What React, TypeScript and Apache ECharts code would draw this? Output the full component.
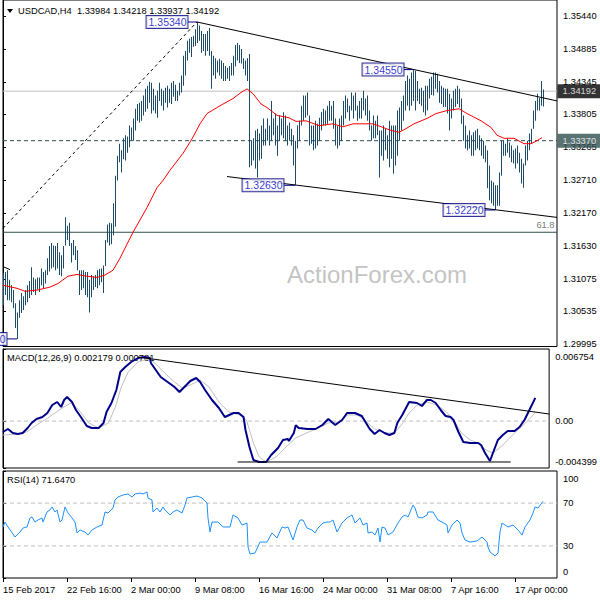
import React, { useEffect, useRef } from 'react';
import * as echarts from 'echarts';

// ---------- data ----------
const symbolName = 'USDCAD,H4';
const lastOpen = 1.33984;
const lastClose = 1.34192;

const highs = [
  1.3117,1.3119,1.3122,1.3106,1.3097,1.3089,1.3067,1.3052,1.3072,1.3084,
  1.3079,1.3089,1.3097,1.3104,1.3127,1.3110,1.3107,1.3110,1.3110,1.3125,
  1.3119,1.3122,1.3142,1.3162,1.3167,1.3163,1.3162,1.3167,1.3152,1.3147,
  1.3162,1.3210,1.3196,1.3201,1.3167,1.3172,1.3162,1.3155,1.3122,1.3122,
  1.3122,1.3119,1.3119,1.3106,1.3114,1.3112,1.3114,1.3122,1.3124,1.3125,
  1.3130,1.3172,1.3198,1.3201,1.3200,1.3233,1.3279,1.3312,1.3332,1.3321,
  1.3341,1.3346,1.3344,1.3362,1.3359,1.3374,1.3390,1.3398,1.3400,1.3403,
  1.3412,1.3423,1.3428,1.3435,1.3433,1.3423,1.3412,1.3420,1.3433,1.3423,
  1.3420,1.3425,1.3428,1.3423,1.3433,1.3436,1.3430,1.3420,1.3433,1.3445,
  1.3478,1.3486,1.3503,1.3506,1.3509,1.3511,1.3522,1.3534,1.3528,1.3519,
  1.3514,1.3514,1.3519,1.3524,1.3486,1.3478,1.3474,1.3470,1.3473,1.3470,
  1.3466,1.3461,1.3458,1.3461,1.3466,1.3478,1.3496,1.3499,1.3496,1.3489,
  1.3474,1.3470,1.3474,1.3481,1.3337,1.3341,1.3354,1.3357,1.3349,1.3362,
  1.3374,1.3357,1.3374,1.3362,1.3403,1.3374,1.3382,1.3362,1.3379,1.3374,
  1.3384,1.3379,1.3362,1.3367,1.3357,1.3346,1.3337,1.3362,1.3370,1.3395,
  1.3412,1.3412,1.3417,1.3379,1.3362,1.3362,1.3370,1.3365,1.3375,1.3384,
  1.3390,1.3387,1.3395,1.3403,1.3395,1.3403,1.3374,1.3362,1.3374,1.3379,
  1.3403,1.3412,1.3407,1.3395,1.3417,1.3412,1.3417,1.3395,1.3403,1.3408,
  1.3420,1.3407,1.3412,1.3387,1.3362,1.3379,1.3370,1.3379,1.3354,1.3354,
  1.3362,1.3357,1.3346,1.3370,1.3362,1.3362,1.3362,1.3387,1.3392,1.3403,
  1.3412,1.3436,1.3445,1.3440,1.3450,1.3455,1.3453,1.3436,1.3423,1.3425,
  1.3420,1.3428,1.3428,1.3440,1.3443,1.3450,1.3450,1.3448,1.3436,1.3428,
  1.3425,1.3423,1.3423,1.3415,1.3407,1.3420,1.3423,1.3428,1.3423,1.3407,
  1.3379,1.3362,1.3346,1.3354,1.3346,1.3351,1.3354,1.3357,1.3346,1.3341,
  1.3337,1.3329,1.3321,1.3296,1.3271,1.3268,1.3263,1.3263,1.3284,1.3337,
  1.3337,1.3332,1.3341,1.3334,1.3329,1.3321,1.3324,1.3329,1.3317,1.3307,
  1.3299,1.3329,1.3337,1.3349,1.3357,1.3387,1.3403,1.3415,1.3408,1.3436,
  1.34218,
];

const lows = [
  1.3064,1.3081,1.3072,1.3072,1.3069,1.3059,1.3026,1.3008,1.3043,1.3051,
  1.3056,1.3064,1.3069,1.3076,1.3081,1.3086,1.3081,1.3090,1.3086,1.3097,
  1.3092,1.3100,1.3114,1.3120,1.3125,1.3127,1.3122,1.3125,1.3114,1.3112,
  1.3125,1.3163,1.3172,1.3162,1.3135,1.3147,1.3139,1.3122,1.3081,1.3089,
  1.3092,1.3081,1.3077,1.3052,1.3077,1.3089,1.3094,1.3092,1.3097,1.3102,
  1.3084,1.3129,1.3168,1.3163,1.3165,1.3180,1.3194,1.3271,1.3301,1.3284,
  1.3306,1.3304,1.3317,1.3326,1.3337,1.3337,1.3354,1.3370,1.3367,1.3370,
  1.3379,1.3385,1.3390,1.3400,1.3382,1.3387,1.3382,1.3375,1.3403,1.3395,
  1.3387,1.3400,1.3392,1.3400,1.3398,1.3410,1.3403,1.3403,1.3412,1.3417,
  1.3428,1.3445,1.3470,1.3483,1.3476,1.3493,1.3494,1.3499,1.3503,1.3483,
  1.3486,1.3478,1.3486,1.3478,1.3423,1.3445,1.3440,1.3450,1.3445,1.3440,
  1.3436,1.3436,1.3440,1.3436,1.3445,1.3445,1.3460,1.3470,1.3466,1.3465,
  1.3456,1.3445,1.3436,1.3293,1.3296,1.3304,1.3291,1.3276,1.3304,1.3307,
  1.3329,1.3329,1.3337,1.3329,1.3337,1.3346,1.3329,1.3312,1.3337,1.3346,
  1.3341,1.3337,1.3329,1.3337,1.3329,1.3296,1.3263,1.3324,1.3337,1.3362,
  1.3370,1.3375,1.3379,1.3329,1.3332,1.3321,1.3324,1.3329,1.3337,1.3354,
  1.3362,1.3362,1.3365,1.3370,1.3370,1.3357,1.3329,1.3324,1.3329,1.3337,
  1.3362,1.3374,1.3384,1.3370,1.3387,1.3374,1.3387,1.3370,1.3374,1.3374,
  1.3387,1.3379,1.3370,1.3354,1.3337,1.3341,1.3341,1.3346,1.3276,1.3312,
  1.3304,1.3321,1.3307,1.3293,1.3307,1.3282,1.3296,1.3312,1.3337,1.3354,
  1.3370,1.3387,1.3395,1.3387,1.3395,1.3403,1.3387,1.3403,1.3398,1.3395,
  1.3384,1.3379,1.3387,1.3407,1.3413,1.3412,1.3423,1.3417,1.3400,1.3398,
  1.3393,1.3393,1.3382,1.3354,1.3374,1.3387,1.3393,1.3398,1.3392,1.3365,
  1.3337,1.3324,1.3321,1.3324,1.3312,1.3312,1.3321,1.3324,1.3321,1.3312,
  1.3307,1.3301,1.3258,1.3238,1.3233,1.3229,1.3222,1.3229,1.3229,1.3279,
  1.3312,1.3312,1.3317,1.3309,1.3301,1.3299,1.3291,1.3299,1.3284,1.3266,
  1.3259,1.3296,1.3304,1.3321,1.3332,1.3357,1.3370,1.3387,1.3387,1.3395,
  1.33937,
];

// moving average (bar index, price)
const maPoints: [number, number][] = [
  [0,1.3097],[7,1.3092],[11,1.3087],[17,1.3089],[23.5,1.3094],[27.5,1.3100],[32.5,1.3112],[37,1.3115],
  [42,1.3112],[47,1.3110],[51,1.3114],[55,1.3122],[58.5,1.3142],[65,1.3185],[72,1.3226],[77,1.3259],
  [80,1.3271],[83.5,1.3288],[90,1.3316],[94.5,1.3340],[98.5,1.3365],[102,1.3382],[108.5,1.3395],
  [115,1.3407],[119,1.3417],[122,1.3423],[125,1.3415],[129,1.3398],[132,1.3392],[137,1.3379],
  [143,1.3375],[146.5,1.3369],[151.5,1.3370],[158,1.3362],[165,1.3365],[170,1.3360],[175,1.3365],
  [180,1.3365],[185,1.3365],[190,1.3359],[194,1.3354],[198,1.3351],[201.5,1.3357],[205.5,1.3365],
  [212,1.3374],[216.5,1.3382],[222,1.3387],[228,1.3390],[232,1.3382],[239,1.3370],[244,1.3359],
  [247,1.3346],[250.5,1.3341],[255.5,1.3341],[260.5,1.3332],[264,1.3332],[267,1.3337],[269.5,1.3342],
];

const macdMain: [number, number][] = [
  [0,-0.001025],[2.5,-0.000744],[5,-0.001118],[7.5,-0.001212],[10,-0.001118],[12.5,-0.00065],[14.5,-0.000181],
  [17,0.000194],[20,0.000381],[22.5,0.000756],[25,0.001506],[27.5,0.001787],[29.5,0.001318],[31,0.001974],
  [32.5,0.002255],[35,0.001787],[37,0.001037],[39.5,0.000381],[42.5,-0.000462],[45,-0.00065],[48.5,-0.00065],
  [51,-0.000181],[52.5,0.00085],[55,0.001693],[57.5,0.002911],[59.5,0.004598],[62,0.005067],[65,0.005536],
  [68.5,0.005911],[72,0.006004],[74.5,0.005911],[75,0.005442],[77.5,0.004786],[80,0.00413],[83.5,0.003661],
  [87,0.003193],[89.5,0.002724],[92,0.003193],[95,0.003755],[98,0.004036],[100,0.003661],[102.5,0.002911],
  [106,0.001974],[109.5,0.001225],[112.5,0.000381],[117,0.000756],[119.5,0.000756],[122,0.000381],
  [123,-0.000837],[125,-0.002431],[127,-0.003649],[130,-0.003836],[133.5,-0.003836],[136,-0.00318],
  [139.5,-0.002524],[142,-0.001775],[144.5,-0.001681],[145,-0.001868],[147.5,-0.001118],[148.5,-0.0004],
  [150,-0.00065],[154.5,-0.000744],[158.5,-0.000744],[162,-0.000369],[165,0.000194],[168.5,-0.000369],
  [172,0.0001],[174.5,0.000756],[178.5,0.000756],[182,0.000475],[186,-0.000744],[188.5,-0.001212],
  [191,-0.000837],[193.5,-0.001118],[196,-0.001306],[198.5,-0.001118],[200,-0.000181],[202.5,0.000569],
  [206,0.001787],[210,0.001693],[212.5,0.001412],[215,0.001974],[217,0.001974],[219.5,0.001693],
  [222,0.001037],[224.5,0.000475],[227,0.000381],[228.5,0.0001],[231,-0.001025],[233.5,-0.001962],
  [237,-0.002056],[241,-0.002056],[242.5,-0.002243],[244.5,-0.002993],[247,-0.003743],[248.5,-0.002993],
  [251,-0.001775],[253.5,-0.001306],[256,-0.000931],[259.5,-0.000931],[262,-0.000556],[264.5,0.0001],
  [267,0.001037],[270,0.002179],
];

const macdSignal: [number, number][] = [
  [0,-0.001306],[7,-0.001212],[12,-0.001025],[17,-0.000369],[23.5,0.000381],[30,0.001225],[34.5,0.001693],
  [38.5,0.001037],[43.5,-0.000181],[48.5,-0.00065],[53.5,-0.000181],[57,0.001318],[60,0.003193],
  [63.5,0.004598],[68.5,0.005536],[73.5,0.005817],[77,0.005442],[82,0.004505],[87,0.003661],[91,0.003099],
  [95,0.00338],[100,0.003849],[104.5,0.003193],[109.5,0.001787],[114.5,0.00085],[120,0.000569],
  [123.5,0.0001],[127,-0.002056],[130,-0.003368],[133.5,-0.003836],[138.5,-0.003368],[143.5,-0.002431],
  [148.5,-0.001587],[155,-0.001025],[160,-0.00065],[165,-0.000181],[170,-0.000088],[175,0.000569],
  [180,0.000569],[184.5,-0.000088],[188.5,-0.000744],[193.5,-0.001118],[198.5,-0.001118],[202,-0.000369],
  [206,0.000756],[210,0.001506],[215,0.001787],[220,0.001506],[225,0.00085],[228.5,0.0001],
  [232.5,-0.001118],[237,-0.001775],[241,-0.002056],[245,-0.002712],[248.5,-0.002993],[252.5,-0.002431],
  [257,-0.001587],[261,-0.000837],[265,-0.000181],[270,0.000781],
];

const rsiPoints: [number, number][] = [
  [0,47.7],[1,52.3],[2.5,47.7],[6,38.3],[8.5,43.0],[10,46.7],[12,47.7],[13.5,56.1],[14.5,57.0],[16,52.3],
  [17.5,54.2],[19.5,56.1],[20,52.3],[22,61.7],[23.5,63.6],[24.5,66.4],[26,61.7],[27,63.6],[28.5,52.3],
  [29.5,54.2],[31,66.4],[32.5,60.7],[34.5,56.1],[36,52.3],[37,42.1],[38.5,44.9],[41,43.0],[42.5,40.2],
  [44.5,44.9],[47,47.7],[49.5,49.5],[51,61.7],[52.5,60.7],[55,65.4],[56,72.9],[57.5,75.7],[60,77.6],
  [62.5,78.5],[64.5,75.7],[66,78.5],[68.5,79.4],[70,78.5],[72,80.4],[72.5,74.8],[74.5,72.9],[75,61.7],
  [77,65.4],[78.5,61.7],[80,66.4],[81,63.6],[83.5,58.9],[85,61.7],[87,63.6],[89.5,60.7],[91,68.2],
  [92,74.8],[94.5,75.7],[97,76.6],[99.5,74.8],[102,70.1],[102.5,56.1],[103.5,43.0],[104.5,52.3],
  [107.5,52.3],[110,47.7],[113.5,47.7],[115,58.9],[117.5,56.1],[119.5,49.5],[122,51.4],[122.5,29.0],
  [123.5,22.4],[126,23.4],[128.5,33.6],[132,33.6],[134.5,42.1],[137,37.4],[139.5,47.7],[141,46.7],
  [142.5,47.7],[145,35.5],[147,47.7],[148.5,54.2],[150,54.2],[152,46.7],[154.5,44.9],[156,42.1],
  [157.5,46.7],[160,51.4],[162,52.3],[163.5,52.3],[165,54.2],[167,43.0],[169.5,51.4],[172,56.1],
  [174.5,58.9],[176,51.4],[178.5,56.1],[180,49.5],[182,51.4],[182.5,42.1],[184.5,43.0],[186,40.2],
  [187.5,46.7],[188.5,33.6],[189.5,47.7],[191,46.7],[192.5,40.2],[195,43.0],[197.5,51.4],[199.5,57.0],
  [201,58.9],[202.5,57.0],[205,68.2],[206,65.4],[207.5,57.0],[209.5,56.1],[212,58.9],[212.5,61.7],
  [215,61.7],[217.5,54.2],[219.5,52.3],[222,49.5],[222.5,42.1],[224.5,49.5],[227,54.2],[228.5,51.4],
  [229.5,42.1],[231,35.5],[233.5,33.6],[237,34.6],[239.5,38.3],[242,33.6],[242.5,29.0],[243.5,24.3],
  [246,20.6],[247.5,23.4],[248.5,43.0],[249.5,51.4],[251,49.5],[252.5,47.7],[255,49.5],[257.5,44.9],
  [259.5,40.2],[261,47.7],[263.5,54.2],[265,60.7],[266,66.4],[267.5,65.4],[270,71.647],
];

const xTickIdx = [0, 32, 64, 96, 128, 160, 192, 224, 256];
const xTickText = ['15 Feb 2017', '22 Feb 16:00', '2 Mar 00:00', '9 Mar 08:00', '16 Mar 16:00',
  '24 Mar 00:00', '31 Mar 08:00', '7 Apr 16:00', '17 Apr 00:00'];
const priceTicks = [1.29995, 1.30535, 1.31075, 1.3163, 1.3217, 1.3271, 1.33265, 1.33805, 1.34345, 1.34885, 1.3544];
const macdTicks = [-0.004399, 0, 0.006754];
const macdTickText = ['-0.004399', '0.00', '0.006754'];
const rsiTicks = [0, 30, 70, 100];
const rsiLevels = [30, 70];

const priceRange = [1.29954, 1.35705];
const barSpan = 277;
const currentPrice = lastClose;
const dashedLevel = 1.3337;
const fibLevel = 1.3185;
const fibText = '61.8';

const trendLines: { pts: [number, number][]; dashed?: boolean }[] = [
  { pts: [[0, 1.31915], [97, 1.3534]], dashed: true },
  { pts: [[97, 1.3534], [277, 1.3403]] },
  { pts: [[112, 1.32775], [277, 1.32097]] },
  { pts: [[0, 1.3128], [3.5, 1.3123]] },
];
const swingLabels = [
  { bar: 97, price: 1.3534, boxBar: 92.5 },
  { bar: 205, price: 1.3455, boxBar: 200.5 },
  { bar: 146, price: 1.3263, boxBar: 140.5 },
  { bar: 246, price: 1.3222, boxBar: 241 },
  { bar: 7, price: 1.3008, boxBar: 2 },
];
const macdTrend: [number, number][] = [[68.5, 0.006004], [277, 0.000662]];
const macdFloor: [number, number][] = [[119, -0.003836], [257.5, -0.003836]];

// ---------- styles ----------
const FONT = "'Liberation Sans', Arial, sans-serif";
const FS = 9.3;
const BAR_COLOR = '#1d4a66';
const NAVY = '#000080';
const SLATE = '#2f4f4f';

export default function App() {
  const ref = useRef<HTMLDivElement>(null);
  useEffect(() => {
    const chart = echarts.init(ref.current!, null, { renderer: 'svg' });
    const n = highs.length;
    const headerText = `${symbolName}  ${lastOpen.toFixed(5)} ${highs[n - 1].toFixed(5)} ${lows[n - 1].toFixed(5)} ${lastClose.toFixed(5)}`;
    const macdText = `MACD(12,26,9) ${macdMain[macdMain.length - 1][1].toFixed(6)} ${macdSignal[macdSignal.length - 1][1].toFixed(6)}`;
    const rsiText = `RSI(14) ${rsiPoints[rsiPoints.length - 1][1].toFixed(4)}`;

    const edgeRich = {
      top: { padding: [16, 0, 0, 0], fontSize: FS, fontFamily: FONT, color: '#000' },
      bot: { padding: [0, 0, 12, 0], fontSize: FS, fontFamily: FONT, color: '#000' },
    };
    // wrap min/max labels so they sit inside their panel, as in MT4
    const edgeFmt = (ticks: number[], text: (v: number) => string) => (v: number) => {
      const t = text(v);
      if (v === ticks[ticks.length - 1]) return `{top|${t}}`;
      if (v === ticks[0]) return `{bot|${t}}`;
      return t;
    };

    const baseX = (gi: number, show: boolean) => ({
      type: 'value', gridIndex: gi, min: 0, max: barSpan, show,
      axisLine: { show: false }, splitLine: { show: false },
      axisTick: show ? { show: true, customValues: xTickIdx, length: 4, lineStyle: { color: '#000' } } : { show: false },
      axisLabel: show ? {
        customValues: xTickIdx, formatter: (v: number) => xTickText[xTickIdx.indexOf(v)] ?? '',
        align: 'left', margin: 7, fontSize: FS, fontFamily: FONT, color: '#000',
      } : { show: false },
    });
    const baseY = (gi: number, min: number, max: number, ticks: number[], fmt: (v: number) => string, rich?: any) => ({
      type: 'value', gridIndex: gi, position: 'right', min, max,
      axisLine: { show: true, lineStyle: { color: '#000' } },
      axisTick: { show: true, customValues: ticks, length: 3, lineStyle: { color: '#000' } },
      axisLabel: {
        customValues: ticks, formatter: fmt, margin: 6, fontSize: FS, fontFamily: FONT, color: '#000',
        showMinLabel: true, showMaxLabel: true, hideOverlap: false, rich,
      },
      splitLine: { show: false },
    });

    const lineSeries = (xi: number, data: [number, number][], color: string, width: number, extra: any = {}) => ({
      type: 'line', xAxisIndex: xi, yAxisIndex: xi, data, showSymbol: false, symbol: 'none', silent: true,
      lineStyle: { color, width, ...(extra.lineStyle || {}) }, z: extra.z ?? 4, clip: true,
    });

    const levelDefs = [
      { value: currentPrice, color: '#c0c0c0', dash: 'solid', tagBg: '#000' },
      { value: dashedLevel, color: SLATE, dash: [4, 3], tagBg: SLATE },
      { value: fibLevel, color: SLATE, dash: 'solid', tagBg: '' },
    ];

    const series: any[] = [];
    levelDefs.forEach((l) => series.push(lineSeries(0, [[0, l.value], [barSpan, l.value]], l.color, 1, { lineStyle: { type: l.dash }, z: 1 })));
    series.push({
      type: 'scatter', xAxisIndex: 0, yAxisIndex: 0, silent: true, z: 6, clip: false,
      symbolSize: 1, itemStyle: { color: 'rgba(0,0,0,0)' },
      data: levelDefs.filter((l) => l.tagBg).map((l) => ({
        value: [barSpan, l.value],
        label: { backgroundColor: l.tagBg, formatter: l.value.toFixed(5) },
      })),
      label: {
        show: true, position: 'right', distance: 0, color: '#fff',
        padding: [2, 4, 1, 5], fontSize: FS, fontFamily: FONT, lineHeight: 11,
      },
    });
    series.push({
      type: 'scatter', xAxisIndex: 0, yAxisIndex: 0, silent: true, z: 6, clip: false,
      symbolSize: 1, itemStyle: { color: 'rgba(0,0,0,0)' },
      data: [{ value: [barSpan, fibLevel], name: fibText }],
      label: {
        show: true, position: 'left', distance: 2, offset: [0, -7], formatter: (p: any) => p.name,
        color: '#555', fontSize: FS, fontFamily: FONT,
      },
    });
    series.push({
      type: 'custom', xAxisIndex: 0, yAxisIndex: 0, clip: true, silent: true, z: 3,
      data: highs.map((h, i) => [i, h, lows[i]]),
      encode: { x: 0, y: [1, 2] },
      renderItem: (_p: any, api: any) => {
        const t = api.coord([api.value(0), api.value(1)]);
        const b = api.coord([api.value(0), api.value(2)]);
        return {
          type: 'rect',
          shape: { x: Math.round(t[0]), y: t[1], width: 1, height: Math.max(1, b[1] - t[1]) },
          style: { fill: BAR_COLOR },
        };
      },
    });
    series.push(lineSeries(0, maPoints, '#ff0000', 1));
    trendLines.forEach((t) => series.push(lineSeries(0, t.pts, '#000', 1, { lineStyle: { type: t.dashed ? [3, 3] : 'solid' }, z: 5 })));
    swingLabels.forEach((s) => series.push(lineSeries(0, [[s.boxBar, s.price], [s.bar, s.price]], NAVY, 1, { z: 5 })));
    series.push({
      type: 'scatter', xAxisIndex: 0, yAxisIndex: 0, silent: true, z: 6, clip: false,
      symbolSize: 1, itemStyle: { color: 'rgba(0,0,0,0)' },
      data: swingLabels.map((s) => ({ value: [s.boxBar, s.price], name: s.price.toFixed(5) })),
      label: {
        show: true, position: 'left', distance: 0, formatter: (p: any) => p.name,
        backgroundColor: '#fff', borderColor: NAVY, borderWidth: 1, padding: [1, 1, 0, 2],
        color: '#0000c8', fontSize: 10.5, fontFamily: FONT, lineHeight: 11,
      },
    });
    // MACD
    series.push(lineSeries(1, [[0, 0], [barSpan, 0]], '#c0c0c0', 1, { lineStyle: { type: [4, 3] }, z: 2 }));
    series.push(lineSeries(1, macdSignal, '#c0c0c0', 1, { z: 3 }));
    series.push(lineSeries(1, macdMain, '#00008b', 2, { z: 4 }));
    series.push(lineSeries(1, macdTrend, '#000', 1, { z: 5 }));
    series.push(lineSeries(1, macdFloor, '#000', 1, { z: 5 }));
    // RSI
    rsiLevels.forEach((v) => series.push(lineSeries(2, [[0, v], [barSpan, v]], '#c0c0c0', 1, { lineStyle: { type: [4, 3] }, z: 2 })));
    series.push(lineSeries(2, rsiPoints, '#1e90ff', 1, { z: 4 }));

    const option: any = {
      animation: false,
      backgroundColor: '#fff',
      textStyle: { fontFamily: FONT },
      grid: [
        { left: 3, right: 43, top: -1, height: 347.5, show: true, borderColor: '#000', borderWidth: 1, backgroundColor: 'transparent' },
        { left: 3, right: 43, top: 349, height: 119, show: true, borderColor: '#000', borderWidth: 1, backgroundColor: 'transparent' },
        { left: 3, right: 43, top: 471, height: 107, show: true, borderColor: '#000', borderWidth: 1, backgroundColor: 'transparent' },
      ],
      xAxis: [baseX(0, false), baseX(1, false), baseX(2, true)],
      yAxis: [
        baseY(0, priceRange[0], priceRange[1], priceTicks, (v: number) => v.toFixed(5)),
        baseY(1, macdTicks[0], macdTicks[2], macdTicks,
          edgeFmt(macdTicks, (v: number) => macdTickText[macdTicks.indexOf(v)] ?? ''), edgeRich),
        baseY(2, 0, 100, rsiTicks, edgeFmt(rsiTicks, (v: number) => String(v)), edgeRich),
      ],
      graphic: [
        { type: 'polygon', shape: { points: [[7, 9], [13, 9], [10, 13]] }, style: { fill: '#000' }, silent: true },
        { type: 'text', x: 18, y: 11, silent: true, style: { text: headerText, fontSize: FS, fontFamily: FONT, fill: '#000', verticalAlign: 'middle' } },
        { type: 'text', x: 7, y: 358, silent: true, style: { text: macdText, fontSize: FS, fontFamily: FONT, fill: '#000', verticalAlign: 'middle' } },
        { type: 'text', x: 7, y: 480, silent: true, style: { text: rsiText, fontSize: FS, fontFamily: FONT, fill: '#000', verticalAlign: 'middle' } },
        { type: 'text', x: 287, y: 274, silent: true, z: -1, style: { text: 'ActionForex.com', fontSize: 24, fontFamily: FONT, fill: '#c4c4c4', verticalAlign: 'middle' } },
      ],
      series,
    };
    chart.setOption(option);
    return () => chart.dispose();
  }, []);
  return <div ref={ref} style={{ position: 'absolute', left: 0, top: 0, width: 600, height: 600, background: '#fff' }} />;
}
